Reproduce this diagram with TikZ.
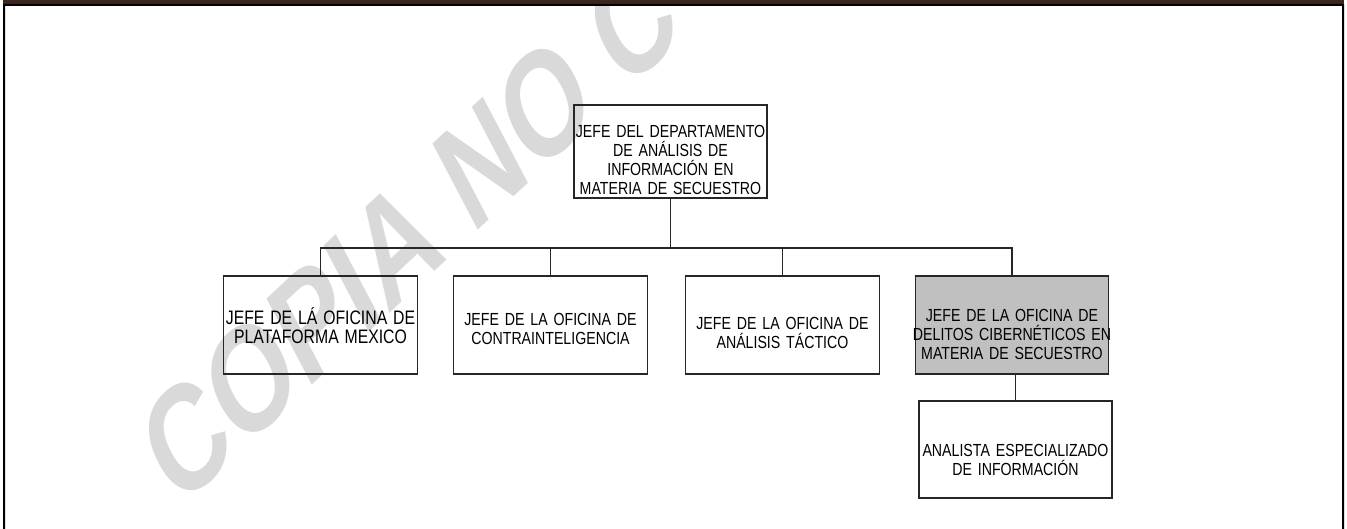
\documentclass[tikz,border=0pt]{standalone}
\usepackage{fontspec}
\setmainfont{Liberation Sans}
\newfontfamily\cajafont[FakeStretch=0.81]{Liberation Sans}
\definecolor{barra}{HTML}{3E2620}
\definecolor{marca}{HTML}{D9D9D9}
\definecolor{sombra}{HTML}{C0C0C0}
\newcommand{\caja}[5][]{%
 \node[marco,#1] (#2) at (#3) {};
 \node[rotulo] (#2t) at ([yshift=-#4pt]#2.center) {#5};}
\tikzset{
 marco/.style={draw=black!85, line width=1.4pt, minimum width=194pt, minimum height=98pt, inner sep=0pt},
 rotulo/.style={text width=230pt, inner sep=0pt, align=center,
  font=\cajafont\fontsize{17.5}{19}\selectfont},
 linea/.style={draw=black!85, line width=1.4pt}
}

\begin{document}
\begin{tikzpicture}[x=1pt,y=-1pt]
\useasboundingbox (0,0) rectangle (1347,529);
\node[text=marca, xscale=0.75, rotate=35, yscale=1.1, font=\bfseries\fontsize{139}{139}\selectfont] (copia) at (410,230) {COPIA NO C};
\fill[barra] (3,0) rectangle (1344,4);
\fill (3,4) rectangle (1344,6) (3,4) rectangle (5,529) (1342,4) rectangle (1344,529);

\caja[minimum width=193pt, minimum height=93pt]{jefe}{670.5,151.5}{8}
 {JEFE DEL DEPARTAMENTO\\DE ANÁLISIS DE\\INFORMACIÓN EN\\MATERIA DE SECUESTRO}
\coordinate (bus) at (0,248);
\caja{ofa}{320.5,325}{1}{{\fontsize{19.5}{19}\selectfont JEFE DE LÁ OFICINA DE\\PLATAFORMA MEXICO}}
\foreach \n/\x/\s/\t in {ofb/550.5/3.5/{JEFE DE LA OFICINA DE\\CONTRAINTELIGENCIA},
  ofc/782.5/7.5/{JEFE DE LA OFICINA DE\\ANÁLISIS TÁCTICO}}
 {\caja{\n}{\x,325}{\s}{\t}}
\caja[fill=sombra, minimum width=193pt]{ofd}{1012,325}{9}
 {JEFE DE LA OFICINA DE\\DELITOS CIBERNÉTICOS EN\\MATERIA DE SECUESTRO}
\caja[minimum width=193pt, minimum height=97pt]{analista}{1015.5,449.5}{10.5}
 {ANALISTA ESPECIALIZADO\\DE INFORMACIÓN}

\draw[linea] (jefe.south) -- (jefe.south |- bus);
\draw[linea] (ofa.north) |- (ofd.north |- bus) -- (ofd.north);
\foreach \n in {ofb,ofc}
 \draw[linea] (\n.north) -- (\n.north |- bus);
\draw[linea] (ofd.south) -- (ofd.south -| analista.north) -- (analista.north);
\end{tikzpicture}
\end{document}
